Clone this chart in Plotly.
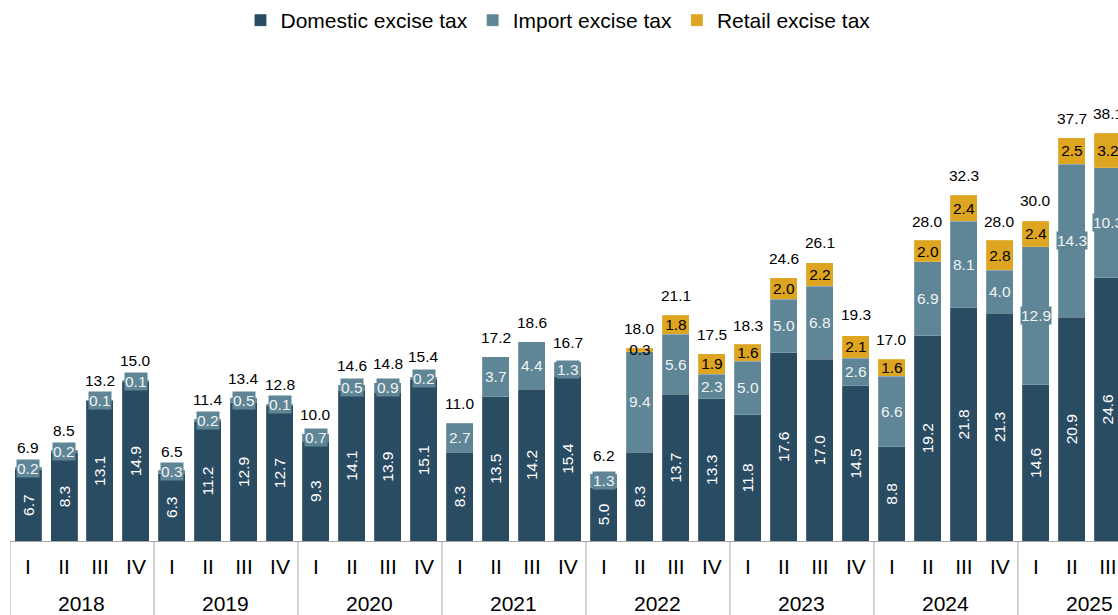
import plotly.graph_objects as go

# quarterly excise tax revenue, by type
years = ["2018", "2019", "2020", "2021", "2022", "2023", "2024", "2025"]
quarters = ["I", "II", "III", "IV"]

domestic = [6.7, 8.3, 13.1, 14.9,
            6.3, 11.2, 12.9, 12.7,
            9.3, 14.1, 13.9, 15.1,
            8.3, 13.5, 14.2, 15.4,
            5.0, 8.3, 13.7, 13.3,
            11.8, 17.6, 17.0, 14.5,
            8.8, 19.2, 21.8, 21.3,
            14.6, 20.9, 24.6]
imports = [0.2, 0.2, 0.1, 0.1,
           0.3, 0.2, 0.5, 0.1,
           0.7, 0.5, 0.9, 0.2,
           2.7, 3.7, 4.4, 1.3,
           1.3, 9.4, 5.6, 2.3,
           5.0, 5.0, 6.8, 2.6,
           6.6, 6.9, 8.1, 4.0,
           12.9, 14.3, 10.3]
retail = [None, None, None, None,
          None, None, None, None,
          None, None, None, None,
          None, None, None, None,
          None, 0.3, 1.8, 1.9,
          1.6, 2.0, 2.2, 2.1,
          1.6, 2.0, 2.4, 2.8,
          2.4, 2.5, 3.2]
totals = [6.9, 8.5, 13.2, 15.0,
          6.5, 11.4, 13.4, 12.8,
          10.0, 14.6, 14.8, 15.4,
          11.0, 17.2, 18.6, 16.7,
          6.2, 18.0, 21.1, 17.5,
          18.3, 24.6, 26.1, 19.3,
          17.0, 28.0, 32.3, 28.0,
          30.0, 37.7, 38.1]

DOM_COLOR = "#2a4c63"
IMP_COLOR = "#5e8696"
RET_COLOR = "#dea520"
GRID = "#a6a6a6"
FONT = "Liberation Sans, Arial, sans-serif"
LBL = 15.5

n = len(domestic)
cats = [f"{years[i // 4]} {quarters[i % 4]}" for i in range(n)]
q_text = [quarters[i % 4] for i in range(n)]

fig = go.Figure()

fig.add_trace(go.Bar(
    x=cats, y=domestic, name="Domestic excise tax",
    marker=dict(color=DOM_COLOR, line=dict(color="rgba(255,255,255,0.35)", width=0.5)),
    text=[f"{v:.1f}" for v in domestic], textposition="inside",
    textangle=-90, insidetextanchor="middle", constraintext="none",
    textfont=dict(color="white", size=LBL, family=FONT),
))
fig.add_trace(go.Bar(
    x=cats, y=imports, name="Import excise tax",
    marker=dict(color=IMP_COLOR, line=dict(color="rgba(255,255,255,0.35)", width=0.5)),
    textposition="none",
))
fig.add_trace(go.Bar(
    x=cats, y=retail, name="Retail excise tax",
    marker=dict(color=RET_COLOR, line=dict(color="rgba(255,255,255,0.35)", width=0.5)),
    text=[f"{v:.1f}" if v else "" for v in retail], textposition="inside",
    textangle=0, insidetextanchor="middle", constraintext="none",
    textfont=dict(color="black", size=LBL, family=FONT),
))

# import labels sit in a small box of the segment colour
for i, (d, m) in enumerate(zip(domestic, imports)):
    fig.add_annotation(
        x=i, y=d + m / 2, text=f"{m:.1f}", showarrow=False,
        font=dict(color="#f2f2f2", size=LBL, family=FONT),
        bgcolor=IMP_COLOR, borderpad=0,
    )

# totals above the stacks
for i, t in enumerate(totals):
    fig.add_annotation(
        x=i, y=t, text=f"{t:.1f}", showarrow=False, yanchor="bottom",
        yshift=9, font=dict(color="black", size=LBL, family=FONT),
    )

# year group labels and dividers under the quarter ticks
for k, yr in enumerate(years):
    fig.add_annotation(
        x=4 * k + 1.5, y=0, yref="paper", text=yr, showarrow=False,
        yanchor="middle", yshift=-62,
        font=dict(color="black", size=21, family=FONT),
    )
    fig.add_shape(
        type="line", xref="x", yref="paper",
        x0=4 * k - 0.5, x1=4 * k - 0.5, y0=0, y1=-0.17,
        line=dict(color=GRID, width=1),
    )

fig.update_layout(
    barmode="stack", bargap=0.25,
    width=1118, height=615,
    margin=dict(l=10, r=0, t=60, b=74),
    paper_bgcolor="white", plot_bgcolor="white",
    font=dict(family=FONT, color="black"),
    legend=dict(orientation="h", x=0.208, xanchor="left",
                y=1.0, yanchor="top", yref="container",
                font=dict(size=21, family=FONT),
                itemwidth=30, traceorder="normal"),
    showlegend=True,
)

fig.update_xaxes(
    type="category", range=[-0.5, 30.28],
    tickmode="array", tickvals=cats, ticktext=q_text,
    showline=True, linecolor=GRID, linewidth=1,
    ticks="", tickfont=dict(size=21, family=FONT, color="black"),
    ticklabelstandoff=7, showgrid=False,
)
fig.update_yaxes(visible=False, range=[0, 44.95], showgrid=False)

fig.write_html("out.html", config={"displayModeBar": False},
               post_script="document.body.style.margin='0';")
